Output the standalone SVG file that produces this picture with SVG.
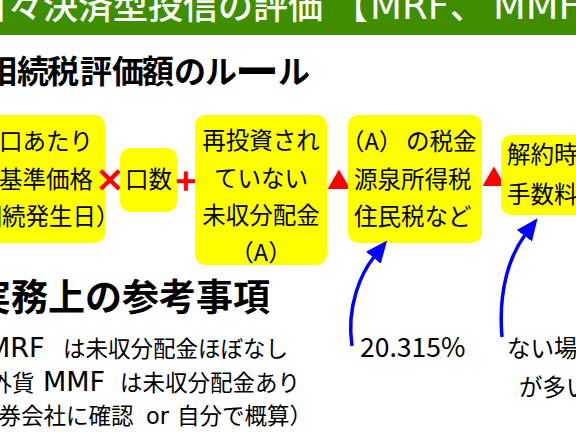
<svg xmlns="http://www.w3.org/2000/svg" width="576" height="432" viewBox="0 0 576 432">
<defs>
<style>
.t{font-family:"Noto Sans CJK JP","Noto Sans",sans-serif;fill:#000}
.lt{font-family:"DejaVu Sans","Noto Sans CJK JP",sans-serif}
.bx{fill:#ffff00}
.b{font-size:23.5px}
.op{font-family:"Noto Sans CJK JP","Noto Sans",sans-serif;fill:#ff0000;font-weight:bold}
.arr{fill:none;stroke:#0000ff;stroke-width:3.5}
</style>
<marker id="ah" markerUnits="userSpaceOnUse" markerWidth="24" markerHeight="24" viewBox="-1 -11 24 22" refX="0" refY="0" orient="auto">
<path d="M-1,-9.5 L21,0 L-1,9.5 z" fill="#0000ff"/>
</marker>
</defs>
<rect x="0" y="0" width="576" height="35" fill="#3e8e00"/>
<text id="title" class="t" x="-27" y="19" font-size="35" font-weight="500" style="fill:#fff">日々決済型投信の評価<tspan x="333">【</tspan><tspan class="lt" x="370" font-size="37">MRF</tspan><tspan x="450">、</tspan><tspan class="lt" x="493" font-size="38">MMF</tspan></text>
<text id="subtitle" class="t" y="83" font-size="32" font-weight="bold"><tspan x="-15 17 47 80 112 142 174 205">相続税評価額のル</tspan><tspan x="235" dy="4.6" font-size="44">ー</tspan><tspan x="278" dy="-4.6">ル</tspan></text>

<g id="box1">
<rect class="bx" x="-20" y="115" width="125" height="128" rx="10"/>
<text class="t b" x="-1" y="150">口あたり</text>
<text class="t b" x="-1" y="188">基準価格</text>
<text class="t b" x="-45" y="225">（相続発生日）</text>
</g>
<text id="times" class="op" x="110" y="191" font-size="30" text-anchor="middle" style="stroke:#ff0000;stroke-width:1.2">×</text>
<g id="box2">
<rect class="bx" x="120" y="148" width="57" height="64" rx="10"/>
<text class="t b" x="148.5" y="188" text-anchor="middle">口数</text>
</g>
<text id="plus" class="op" x="186" y="190" font-size="24" text-anchor="middle" style="stroke:#ff0000;stroke-width:1.5">＋</text>
<g id="box3">
<rect class="bx" x="195" y="115" width="132" height="150" rx="10"/>
<text class="t b" x="261" y="149" text-anchor="middle">再投資され</text>
<text class="t b" x="261" y="187" text-anchor="middle">ていない</text>
<text class="t b" x="261" y="224" text-anchor="middle">未収分配金</text>
<text class="t b" x="261" y="261" text-anchor="middle">（A）</text>
</g>
<text id="minus1" class="op" x="339" y="189" font-size="24" text-anchor="middle">▲</text>
<g id="box4">
<rect class="bx" x="348" y="115" width="134" height="128" rx="10"/>
<text class="t b" x="341" y="150">（A）<tspan x="406">の税金</tspan></text>
<text class="t b" x="354" y="188">源泉所得税</text>
<text class="t b" x="354" y="225">住民税など</text>
</g>
<text id="minus2" class="op" x="494" y="186" font-size="24" text-anchor="middle">▲</text>
<g id="box5">
<rect class="bx" x="501" y="135" width="110" height="80" rx="10"/>
<text class="t b" x="507" y="163">解約時</text>
<text class="t b" x="507" y="203">手数料</text>
</g>

<g id="connectors">
<path class="arr" d="M352,346 C346,305 362,272 374,257" marker-end="url(#ah)"/>
<path class="arr" d="M502,337 C498,290 510,255 525,235" marker-end="url(#ah)"/>
</g>

<text id="rate" class="t" x="360" y="357" font-size="26.5">20.315%</text>
<text id="note" class="t" font-size="23.5"><tspan x="507" y="357">ない場合</tspan><tspan x="519" y="396">が多い</tspan></text>

<text id="heading2" class="t" x="-26" y="310.5" font-size="37" font-weight="bold">実務上の参考事項</text>
<g id="bullets">
<text class="t" font-size="22.5" y="357"><tspan class="lt" x="-13" font-size="27">MRF</tspan><tspan x="63">は未収分配金ほぼなし</tspan></text>
<text class="t" font-size="22.5" y="390.5"><tspan x="-10.5">外貨</tspan><tspan class="lt" x="43" font-size="27">MMF</tspan><tspan x="120">は未収分配金あり</tspan></text>
<text class="t" font-size="22.5" y="424"><tspan x="-46.5">（証券会社に確認</tspan><tspan class="lt" x="146">or</tspan><tspan x="177">自分で概算）</tspan></text>
</g>
</svg>
